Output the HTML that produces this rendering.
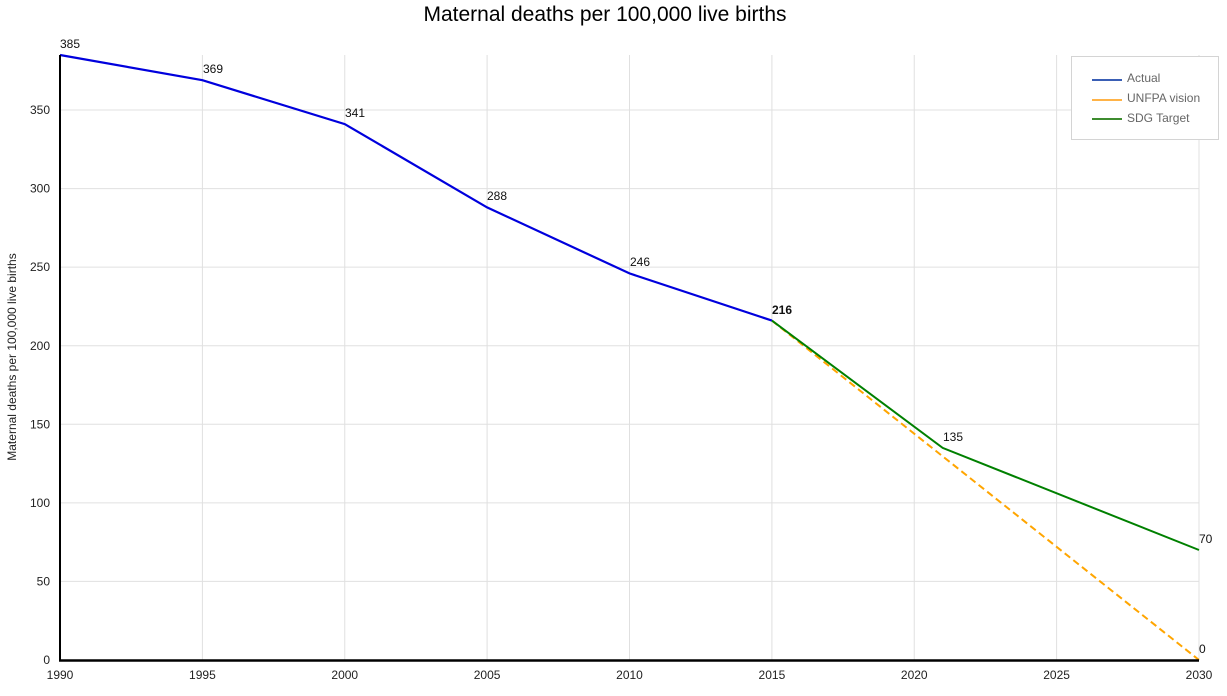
<!DOCTYPE html>
<html><head><meta charset="utf-8"><style>
html,body{margin:0;padding:0;background:#fff;}
svg{display:block;font-family:"Liberation Sans",Arial,sans-serif;}
</style></head><body>
<svg width="1227" height="696" viewBox="0 0 1227 696" xmlns="http://www.w3.org/2000/svg">
<rect width="1227" height="696" fill="#fff"/>
<text x="605" y="21" font-size="21" text-anchor="middle" fill="#000">Maternal deaths per 100,000 live births</text>
<g stroke="#e0e0e0" stroke-width="1">
<line x1="60" x2="1199" y1="581.4" y2="581.4"/>
<line x1="60" x2="1199" y1="502.9" y2="502.9"/>
<line x1="60" x2="1199" y1="424.3" y2="424.3"/>
<line x1="60" x2="1199" y1="345.7" y2="345.7"/>
<line x1="60" x2="1199" y1="267.1" y2="267.1"/>
<line x1="60" x2="1199" y1="188.6" y2="188.6"/>
<line x1="60" x2="1199" y1="110" y2="110"/>
<line x1="202.4" x2="202.4" y1="55" y2="660"/>
<line x1="344.75" x2="344.75" y1="55" y2="660"/>
<line x1="487.1" x2="487.1" y1="55" y2="660"/>
<line x1="629.5" x2="629.5" y1="55" y2="660"/>
<line x1="771.9" x2="771.9" y1="55" y2="660"/>
<line x1="914.25" x2="914.25" y1="55" y2="660"/>
<line x1="1056.6" x2="1056.6" y1="55" y2="660"/>
<line x1="1199" x2="1199" y1="55" y2="660"/>
</g>
<g font-size="12" fill="#222" text-anchor="end">
<text x="50" y="664">0</text>
<text x="50" y="585.5">50</text>
<text x="50" y="507">100</text>
<text x="50" y="428.5">150</text>
<text x="50" y="350">200</text>
<text x="50" y="271">250</text>
<text x="50" y="192.5">300</text>
<text x="50" y="114">350</text>
</g>
<g font-size="12" fill="#222" text-anchor="middle">
<text x="60" y="679">1990</text>
<text x="202.4" y="679">1995</text>
<text x="344.75" y="679">2000</text>
<text x="487.1" y="679">2005</text>
<text x="629.5" y="679">2010</text>
<text x="771.9" y="679">2015</text>
<text x="914.25" y="679">2020</text>
<text x="1056.6" y="679">2025</text>
<text x="1199" y="679">2030</text>
</g>
<text transform="translate(16,357) rotate(-90)" font-size="12" text-anchor="middle" fill="#222">Maternal deaths per 100,000 live births</text>
<polyline points="771.9,320.6 1199,660" fill="none" stroke="#ffa500" stroke-width="2" stroke-dasharray="7,4"/>
<polyline points="771.9,320.6 942.7,447.9 1199,550" fill="none" stroke="#008000" stroke-width="2"/>
<polyline points="60,55 202.4,80.2 344.75,124.1 487.1,207.4 629.5,273.4 771.9,320.6" fill="none" stroke="#0000dd" stroke-width="2.2"/>
<line x1="60" x2="60" y1="55" y2="661" stroke="#000" stroke-width="2"/>
<line x1="59" x2="1199" y1="660.5" y2="660.5" stroke="#000" stroke-width="2.5"/>
<g font-size="12" fill="#111">
<text x="60" y="48">385</text>
<text x="203" y="73">369</text>
<text x="345" y="117">341</text>
<text x="487" y="200">288</text>
<text x="630" y="266">246</text>
<text x="772" y="314" font-weight="bold">216</text>
<text x="943" y="441">135</text>
<text x="1199" y="543">70</text>
<text x="1199" y="653">0</text>
</g>
<rect x="1071.5" y="56.5" width="147" height="83" fill="#fff" stroke="#d4d4d4" stroke-width="1"/>
<line x1="1092" x2="1122" y1="80" y2="80" stroke="#3a5fb5" stroke-width="2"/>
<line x1="1092" x2="1122" y1="100" y2="100" stroke="#ffb347" stroke-width="2"/>
<line x1="1092" x2="1122" y1="119" y2="119" stroke="#3d8c2f" stroke-width="2"/>
<g font-size="12" fill="#666">
<text x="1127" y="82">Actual</text>
<text x="1127" y="102">UNFPA vision</text>
<text x="1127" y="122">SDG Target</text>
</g>
</svg>
</body></html>
